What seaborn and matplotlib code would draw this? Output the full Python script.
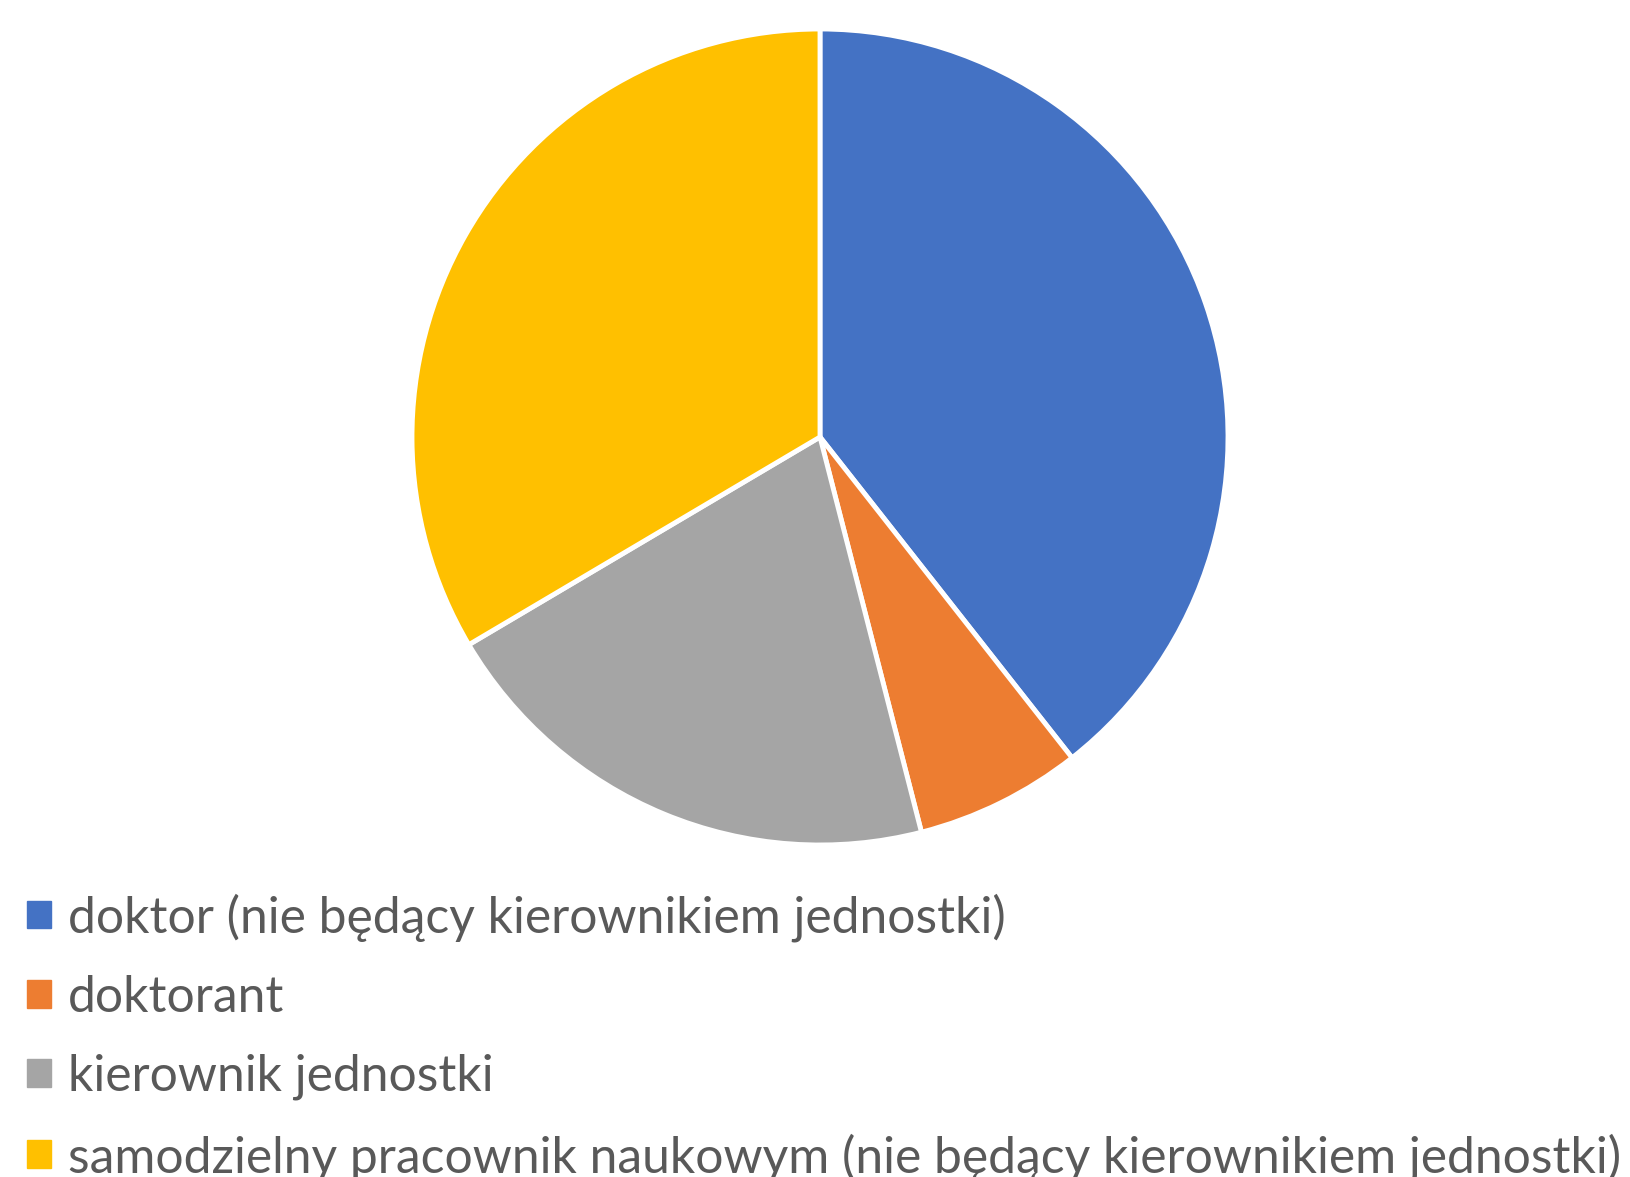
import matplotlib
matplotlib.use("Agg")
import matplotlib.pyplot as plt
import matplotlib.patches as mpatches
import seaborn as sns

categories = [
    "doktor (nie będący kierownikiem jednostki)",
    "doktorant",
    "kierownik jednostki",
    "samodzielny pracownik naukowym (nie będący kierownikiem jednostki)",
]
shares = [39.4, 6.6, 20.5, 33.5]
colors = ["#4472C4", "#ED7D31", "#A5A5A5", "#FFC000"]

sns.set_theme(style="white")
plt.rcParams["font.family"] = ["Lato", "DejaVu Sans"]

W, H, DPI = 1630, 1177, 100
fig = plt.figure(figsize=(W / DPI, H / DPI), dpi=DPI)

# Pie axes: centre (820, 437) px from top-left, radius 408 px
cx, cy, r = 820, 437, 408
ax = fig.add_axes([(cx - r) / W, (H - cy - r) / H, 2 * r / W, 2 * r / H])
palette = sns.color_palette(colors)
wedges, _ = ax.pie(
    shares,
    colors=palette,
    startangle=90,
    counterclock=False,
    wedgeprops=dict(edgecolor="white", linewidth=3.5),
)
ax.set_xlim(-1, 1)
ax.set_ylim(-1, 1)
ax.set_aspect("equal")

# Fit the legend font so the longest label spans the width seen in the picture
target_width = 1557
fs = 34
probe = fig.text(0, 0, categories[-1], fontsize=fs)
fig.canvas.draw()
w = probe.get_window_extent().width
fs = fs * target_width / w
probe.remove()

handles = [mpatches.Patch(color=c) for c in palette]
fig.legend(
    handles,
    categories,
    loc="upper left",
    bbox_to_anchor=(27 / W, 1 - 893 / H),
    frameon=False,
    fontsize=fs,
    labelcolor="#595959",
    handlelength=0.48,
    handleheight=0.48,
    handletextpad=0.35,
    labelspacing=0.66,
    borderaxespad=0,
    borderpad=0,
)

fig.savefig("out.png", dpi=DPI)
